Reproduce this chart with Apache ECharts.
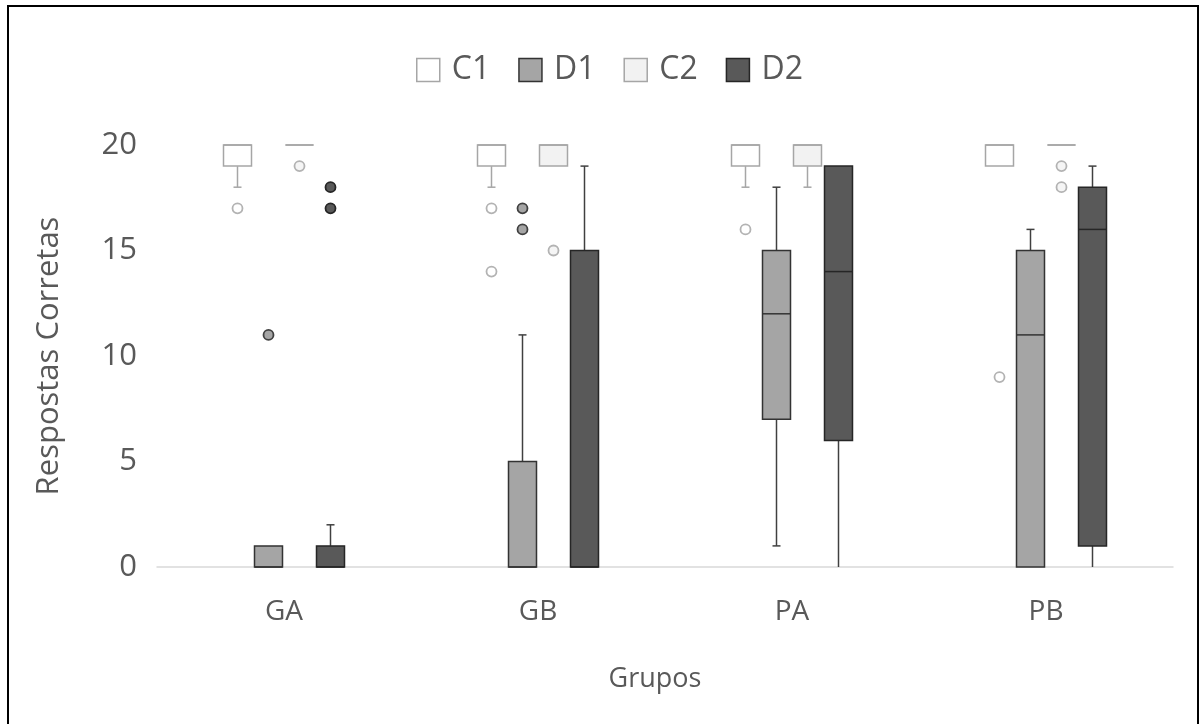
<!DOCTYPE html>
<html>
<head>
<meta charset="utf-8">
<script src="https://cdn.jsdelivr.net/npm/echarts@6/dist/echarts.min.js"></script>
<style>
  html, body { margin: 0; padding: 0; background: #fff; }
  #chart { position: absolute; left: 0; top: 0; width: 1199px; height: 724px; }
  #frame { position: absolute; left: 7px; top: 5px; width: 1188px; height: 760px; border: 2px solid #000; pointer-events: none; }
</style>
</head>
<body>
<div id="chart"></div>
<div id="frame"></div>
<script>
// ---- Data ----
const categories = ['GA', 'GB', 'PA', 'PB'];
const seriesNames = ['C1', 'D1', 'C2', 'D2'];
// each row: [min, Q1, median, Q3, max] per category
const boxC1 = [[18, 19, 20, 20, 20], [18, 19, 20, 20, 20], [18, 19, 20, 20, 20], [19, 19, 20, 20, 20]];
const boxD1 = [[0, 0, 0, 1, 1], [0, 0, 0, 5, 11], [1, 7, 12, 15, 18], [0, 0, 11, 15, 16]];
const boxC2 = [[20, 20, 20, 20, 20], [19, 19, 20, 20, 20], [18, 19, 20, 20, 20], [20, 20, 20, 20, 20]];
const boxD2 = [[0, 0, 0, 1, 2], [0, 0, 0, 15, 19], [0, 6, 14, 19, 19], [0, 1, 16, 18, 19]];
// outliers: [categoryIndex, value]
const outC1 = [[0, 17], [1, 17], [1, 14], [2, 16], [3, 9]];
const outD1 = [[0, 11], [1, 17], [1, 16]];
const outC2 = [[0, 19], [1, 15], [3, 19], [3, 18]];
const outD2 = [[0, 18], [0, 17]];
const yTicks = [0, 5, 10, 15, 20];

// ---- Styles ----
const styles = {
  C1: { fill: '#ffffff', stroke: '#a6a6a6', whisker: '#a6a6a6', outFill: '#ffffff', outStroke: '#b3b3b3' },
  D1: { fill: '#a5a5a5', stroke: '#333333', whisker: '#404040', outFill: '#a5a5a5', outStroke: '#404040' },
  C2: { fill: '#f2f2f2', stroke: '#a6a6a6', whisker: '#a6a6a6', outFill: '#f5f5f5', outStroke: '#b3b3b3' },
  D2: { fill: '#595959', stroke: '#262626', whisker: '#404040', outFill: '#595959', outStroke: '#262626' }
};
const boxSets = { C1: boxC1, D1: boxD1, C2: boxC2, D2: boxD2 };
const outSets = { C1: outC1, D1: outD1, C2: outC2, D2: outD2 };

const SLOT_FRAC = 31 / 254;
const BOX_FRAC = 28 / 254;
const CAP = 8;

function slotOffset(slot, band) { return (slot - 1.5) * band * SLOT_FRAC; }

function boxRenderer(slot, st) {
  return function (params, api) {
    const cat = api.value(0);
    const band = api.size([1, 0])[0];
    const w = band * BOX_FRAC;
    const cx = api.coord([cat, 0])[0] + slotOffset(slot, band);
    const yMin = api.coord([cat, api.value(1)])[1];
    const yQ1 = api.coord([cat, api.value(2)])[1];
    const yMed = api.coord([cat, api.value(3)])[1];
    const yQ3 = api.coord([cat, api.value(4)])[1];
    const yMax = api.coord([cat, api.value(5)])[1];
    const children = [];
    const wStyle = { stroke: st.whisker, lineWidth: 1.5, fill: null };
    if (api.value(5) > api.value(4)) {
      children.push({ type: 'line', shape: { x1: cx, y1: yQ3, x2: cx, y2: yMax }, style: wStyle });
      children.push({ type: 'line', shape: { x1: cx - CAP / 2, y1: yMax, x2: cx + CAP / 2, y2: yMax }, style: wStyle });
    }
    if (api.value(1) < api.value(2)) {
      children.push({ type: 'line', shape: { x1: cx, y1: yQ1, x2: cx, y2: yMin }, style: wStyle });
      if (api.value(1) > 0) {
        children.push({ type: 'line', shape: { x1: cx - CAP / 2, y1: yMin, x2: cx + CAP / 2, y2: yMin }, style: wStyle });
      }
    }
    children.push({
      type: 'rect',
      shape: { x: cx - w / 2, y: yQ3, width: w, height: Math.max(0, yQ1 - yQ3) },
      style: { fill: st.fill, stroke: st.stroke, lineWidth: 1.5 }
    });
    children.push({ type: 'line', shape: { x1: cx - w / 2, y1: yMed, x2: cx + w / 2, y2: yMed }, style: { stroke: st.stroke, lineWidth: 1.5 } });
    return { type: 'group', children: children };
  };
}

function outRenderer(slot, st) {
  return function (params, api) {
    const cat = api.value(0);
    const band = api.size([1, 0])[0];
    const cx = api.coord([cat, 0])[0] + slotOffset(slot, band);
    const cy = api.coord([cat, api.value(1)])[1];
    return { type: 'circle', shape: { cx: cx, cy: cy, r: 5 }, style: { fill: st.outFill, stroke: st.outStroke, lineWidth: 1.8 } };
  };
}

const series = [];
seriesNames.forEach(function (name, slot) {
  const st = styles[name];
  series.push({
    name: name,
    type: 'custom',
    renderItem: boxRenderer(slot, st),
    itemStyle: { color: st.fill, borderColor: st.stroke, borderWidth: 1.5 },
    encode: { x: 0, y: [1, 2, 3, 4, 5] },
    data: boxSets[name].map(function (r, i) { return [i].concat(r); }),
    z: 2
  });
});
seriesNames.forEach(function (name, slot) {
  const st = styles[name];
  series.push({
    name: name,
    type: 'custom',
    renderItem: outRenderer(slot, st),
    itemStyle: { color: st.fill, borderColor: st.stroke, borderWidth: 1.5 },
    encode: { x: 0, y: 1 },
    data: outSets[name],
    z: 3
  });
});

const chart = echarts.init(document.getElementById('chart'), null, { renderer: 'canvas' });
chart.setOption({
  animation: false,
  backgroundColor: '#ffffff',
  textStyle: { fontFamily: 'Open Sans' },
  legend: {
    top: 49,
    left: 411,
    icon: 'rect',
    itemWidth: 23,
    itemHeight: 23,
    itemGap: 28,
    textStyle: { fontSize: 32, color: '#595959', fontFamily: 'Open Sans', padding: [0, 0, 0, 7] },
    data: seriesNames.map(function (n) {
      return { name: n, itemStyle: { color: styles[n].fill, borderColor: styles[n].stroke, borderWidth: 1.5 } };
    })
  },
  grid: { left: 157, right: 26, top: 145, bottom: 157, containLabel: false },
  xAxis: {
    type: 'category',
    data: categories,
    name: 'Grupos',
    nameLocation: 'middle',
    nameGap: 99,
    nameTextStyle: { fontSize: 27, color: '#595959', fontFamily: 'Open Sans', padding: [0, 20, 0, 0] },
    axisLine: { show: true, lineStyle: { color: '#d9d9d9', width: 1.5 } },
    axisTick: { show: false },
    axisLabel: { fontSize: 28, color: '#595959', margin: 31, fontFamily: 'Open Sans' },
    splitLine: { show: false }
  },
  yAxis: {
    type: 'value',
    min: yTicks[0],
    max: yTicks[yTicks.length - 1],
    interval: 5,
    name: 'Respostas Corretas',
    nameLocation: 'middle',
    nameGap: 92,
    nameTextStyle: { fontSize: 31, color: '#595959', fontFamily: 'Open Sans' },
    axisLine: { show: false },
    axisTick: { show: false },
    splitLine: { show: false },
    axisLabel: { fontSize: 31, color: '#595959', margin: 20, fontFamily: 'Open Sans' }
  },
  series: series
});
</script>
</body>
</html>
